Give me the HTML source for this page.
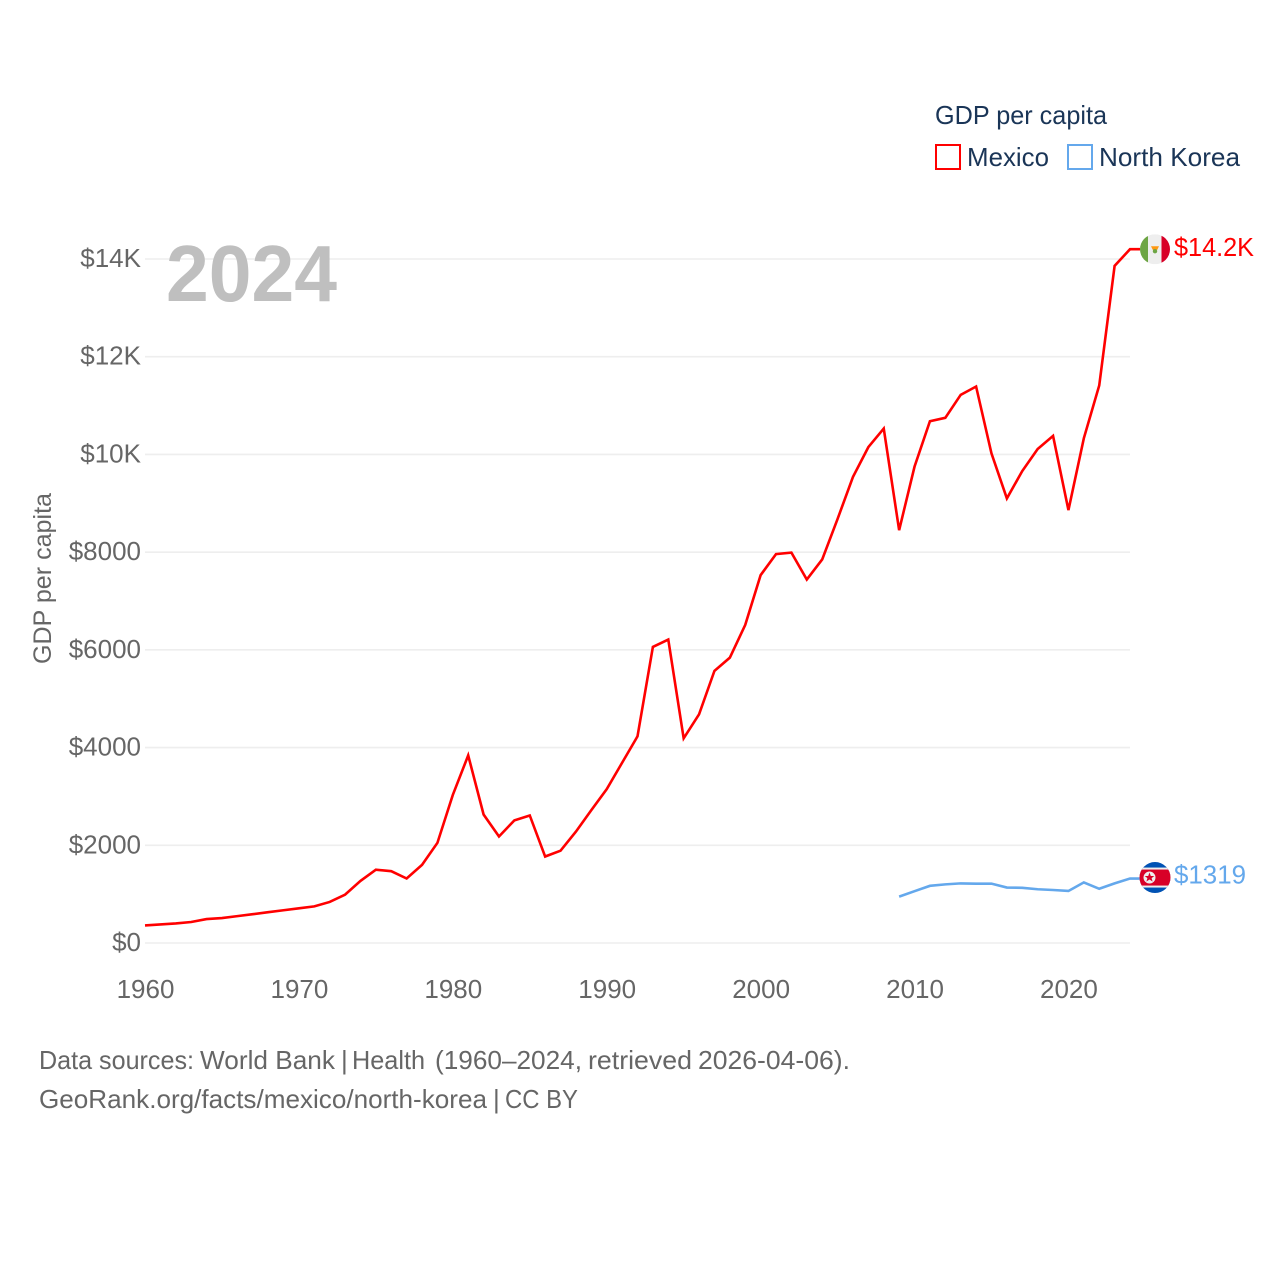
<!DOCTYPE html>
<html lang="en">
<head>
<meta charset="utf-8">
<title>GDP per capita: Mexico vs North Korea</title>
<style>
html,body{margin:0;padding:0;background:#fff;width:1280px;height:1280px;overflow:hidden}
svg{display:block}
text{font-family:"Liberation Sans",Arial,sans-serif}
</style>
</head>
<body>
<svg id="chart" xmlns="http://www.w3.org/2000/svg" width="1280" height="1280" viewBox="0 0 1280 1280">
  <defs>
    <clipPath id="flag-clip-mx"><circle cx="0" cy="0" r="15"></circle></clipPath>
    <clipPath id="flag-clip-kp"><circle cx="0" cy="0" r="15.5"></circle></clipPath>
  </defs>
  <rect x="0" y="0" width="1280" height="1280" fill="#ffffff"></rect>

  <g id="grid"></g>
  <g id="y-axis"></g>
  <g id="x-axis"></g>

  <text transform="translate(51,664) rotate(-90)" font-size="25" fill="#666666" textLength="171" lengthAdjust="spacingAndGlyphs">GDP per capita</text>

  <text x="166" y="301" font-size="80" font-weight="700" fill="#bfbfbf" textLength="171" lengthAdjust="spacingAndGlyphs">2024</text>

  <g id="series"></g>

  <g id="flag-mexico" clip-path="url(#flag-clip-mx)">
    <rect x="-15" y="-15" width="8" height="30" fill="#6da544"></rect>
    <rect x="-7" y="-15" width="13.5" height="30" fill="#eeeeee"></rect>
    <rect x="6.5" y="-15" width="8.5" height="30" fill="#d80027"></rect>
    <path d="M-4,-3 L4,-3 L2,1 L-2,1 Z" fill="#ff9811"></path>
    <circle cx="0" cy="2" r="2.2" fill="#6da544"></circle>
  </g>
  <g id="flag-korea" clip-path="url(#flag-clip-kp)">
    <rect x="-16" y="-16" width="32" height="32" fill="#0052b4"></rect>
    <rect x="-16" y="-10" width="32" height="20" fill="#eeeeee"></rect>
    <rect x="-16" y="-8" width="32" height="16" fill="#d80027"></rect>
    <circle cx="-5.5" cy="0" r="6" fill="#eeeeee"></circle>
    <polygon points="-5.5,-5 -4.2,-1.6 -0.7,-1.6 -3.4,0.6 -2.4,4 -5.5,2 -8.6,4 -7.6,0.6 -10.3,-1.6 -6.8,-1.6" fill="#d80027"></polygon>
  </g>

  <text id="label-mexico" x="1174" font-size="26" fill="#ff0000" textLength="80" lengthAdjust="spacingAndGlyphs">$14.2K</text>
  <text id="label-korea" x="1174" font-size="26" fill="#64a8ec" textLength="72" lengthAdjust="spacingAndGlyphs">$1319</text>

  <g>
    <text x="935" y="124" font-size="26" fill="#1a3557" textLength="172" lengthAdjust="spacingAndGlyphs">GDP per capita</text>
    <g>
      <rect x="936" y="145" width="24" height="24" fill="#ffffff" stroke="#ff0000" stroke-width="2"></rect>
      <text x="967" y="166" font-size="26" fill="#1a3557" textLength="82" lengthAdjust="spacingAndGlyphs">Mexico</text>
    </g>
    <g>
      <rect x="1068" y="145" width="24" height="24" fill="#ffffff" stroke="#64a8ec" stroke-width="2"></rect>
      <text x="1099" y="166" font-size="26" fill="#1a3557" textLength="141" lengthAdjust="spacingAndGlyphs">North Korea</text>
    </g>
  </g>

  <text y="1069" font-size="26" fill="#666666" lengthAdjust="spacingAndGlyphs"><tspan x="39" textLength="155" lengthAdjust="spacingAndGlyphs">Data sources:</tspan> <tspan x="200" textLength="135" lengthAdjust="spacingAndGlyphs">World Bank</tspan> <tspan x="341">|</tspan> <tspan x="352" textLength="73" lengthAdjust="spacingAndGlyphs">Health</tspan> <tspan x="435" textLength="147" lengthAdjust="spacingAndGlyphs">(1960–2024,</tspan> <tspan x="588" textLength="104" lengthAdjust="spacingAndGlyphs">retrieved</tspan> <tspan x="698" textLength="152" lengthAdjust="spacingAndGlyphs">2026-04-06).</tspan></text>
  <text y="1108" font-size="26" fill="#666666"><tspan x="39" textLength="448" lengthAdjust="spacingAndGlyphs">GeoRank.org/facts/mexico/north-korea</tspan> <tspan x="493">|</tspan> <tspan x="505" textLength="73" lengthAdjust="spacingAndGlyphs">CC BY</tspan></text>
</svg>
<script>
var mexicoStartYear = 1960;
var mexicoValues = [360,380,400,430,490,510,550,590,630,670,710,750,840,990,1270,1500,1470,1320,1600,2050,3030,3840,2630,2180,2510,2610,1770,1890,2280,2720,3150,3690,4230,6060,6210,4190,4680,5570,5840,6510,7530,7960,7990,7440,7850,8680,9540,10150,10530,8450,9750,10680,10750,11220,11390,10020,9100,9660,10110,10380,8860,10330,11410,13860,14200];
var koreaStartYear = 2009;
var koreaValues = [950,1060,1170,1200,1220,1215,1215,1135,1130,1100,1085,1065,1240,1110,1220,1319];
var yTickValues = [0,2000,4000,6000,8000,10000,12000,14000];
var yTickLabels = ["$0","$2000","$4000","$6000","$8000","$10K","$12K","$14K"];
var xTickValues = [1960,1970,1980,1990,2000,2010,2020];
var xTickLabels = ["1960","1970","1980","1990","2000","2010","2020"];

var SVG_NS = "http://www.w3.org/2000/svg";
function xScale(year){ return 145 + (year - 1960) * (1130 - 145) / 64; }
function yScale(value){ return 943 - value * (943 - 259) / 14000; }
function seriesPoints(startYear, values){
  return values.map(function(v, i){ return xScale(startYear + i).toFixed(2) + "," + yScale(v).toFixed(2); });
}

var gridGroup = document.getElementById("grid");
var yGroup = document.getElementById("y-axis");
var xGroup = document.getElementById("x-axis");
var seriesGroup = document.getElementById("series");

yTickValues.forEach(function(v, i){
  var line = document.createElementNS(SVG_NS, "line");
  
  
  line.setAttribute("x1", 145);
  line.setAttribute("x2", 1130);
  line.setAttribute("y1", yScale(v));
  line.setAttribute("y2", yScale(v));
  line.setAttribute("stroke", "#eeeeee");
  line.setAttribute("stroke-width", "1.6");
  gridGroup.appendChild(line);

  var label = document.createElementNS(SVG_NS, "text");
  
  
  label.setAttribute("x", 141);
  label.setAttribute("y", yScale(v) + 8);
  label.setAttribute("text-anchor", "end");
  label.setAttribute("font-size", "26");
  label.setAttribute("fill", "#666666");
  label.textContent = yTickLabels[i];
  yGroup.appendChild(label);
});

xTickValues.forEach(function(v, i){
  var label = document.createElementNS(SVG_NS, "text");
  
  
  label.setAttribute("x", xScale(v) + 0.5);
  label.setAttribute("y", 998);
  label.setAttribute("text-anchor", "middle");
  label.setAttribute("font-size", "26");
  label.setAttribute("fill", "#666666");
  label.textContent = xTickLabels[i];
  xGroup.appendChild(label);
});

var flagCenterX = 1155;
var flagRadius = 15;
var mexicoLastY = yScale(mexicoValues[mexicoValues.length - 1]);
var koreaLastY = yScale(koreaValues[koreaValues.length - 1]);

var mexicoLine = document.createElementNS(SVG_NS, "polyline");


mexicoLine.setAttribute("fill", "none");
mexicoLine.setAttribute("stroke", "#ff0000");
mexicoLine.setAttribute("stroke-width", "2.6");
mexicoLine.setAttribute("stroke-linejoin", "miter");
mexicoLine.setAttribute("points", seriesPoints(mexicoStartYear, mexicoValues).concat([(flagCenterX - flagRadius) + "," + mexicoLastY.toFixed(2)]).join(" "));
seriesGroup.appendChild(mexicoLine);

var koreaLine = document.createElementNS(SVG_NS, "polyline");


koreaLine.setAttribute("fill", "none");
koreaLine.setAttribute("stroke", "#64a8ec");
koreaLine.setAttribute("stroke-width", "2.6");
koreaLine.setAttribute("stroke-linejoin", "miter");
koreaLine.setAttribute("points", seriesPoints(koreaStartYear, koreaValues).concat([(flagCenterX - flagRadius) + "," + koreaLastY.toFixed(2)]).join(" "));
seriesGroup.appendChild(koreaLine);

document.getElementById("flag-mexico").setAttribute("transform", "translate(" + flagCenterX + "," + mexicoLastY + ")");
document.getElementById("flag-korea").setAttribute("transform", "translate(" + flagCenterX + "," + (koreaLastY - 1) + ")");
document.getElementById("label-mexico").setAttribute("y", mexicoLastY + 7);
document.getElementById("label-korea").setAttribute("y", koreaLastY + 5);
</script>
</body>
</html>
